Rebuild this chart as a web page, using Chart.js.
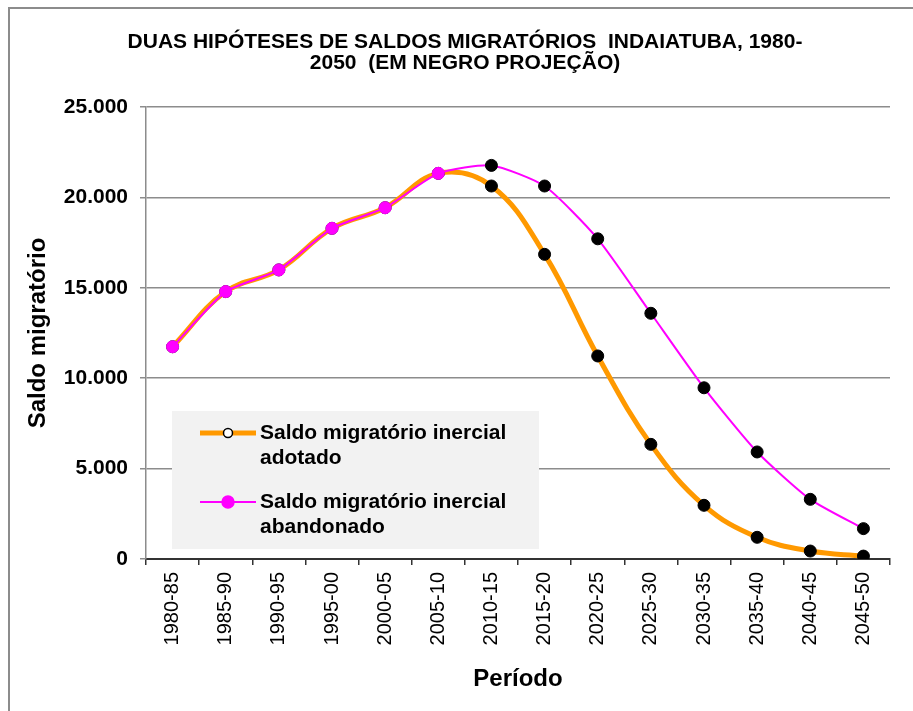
<!DOCTYPE html>
<html lang="pt-BR">
<head>
<meta charset="utf-8">
<title>Saldos migratórios Indaiatuba</title>
<script src="https://cdn.jsdelivr.net/npm/chart.js@4/dist/chart.umd.min.js"></script>
<style>
  html, body { margin: 0; padding: 0; background: #fff; }
  #chart { display: block; }
</style>
</head>
<body>
<canvas id="chart" width="913" height="711"></canvas>
<script>
// Chart data
const periods = ["1980-85", "1985-90", "1990-95", "1995-00", "2000-05", "2005-10", "2010-15",
  "2015-20", "2020-25", "2025-30", "2030-35", "2035-40", "2040-45", "2045-50"];
const adotado = [11740, 14790, 15990, 18290, 19430, 21330, 20630, 16850, 11230, 6340, 2970, 1200, 440, 160];
const abandonado = [11740, 14790, 15990, 18290, 19430, 21330, 21770, 20630, 17710, 13590, 9470, 5920, 3300, 1680];
const projectionStart = 6; // first projected period (black markers)
const yTicks = [0, 5000, 10000, 15000, 20000, 25000];
const titleLines = ["DUAS HIPÓTESES DE SALDOS MIGRATÓRIOS  INDAIATUBA, 1980-", "2050  (EM NEGRO PROJEÇÃO)"];

const FONT = "'Liberation Sans', Arial, sans-serif";
const ORANGE = "#ff9900";
const MAGENTA = "#ff00ff";

// per-point marker colours: history vs projection
const markerColors = (histColor) => periods.map((p, i) => (i < projectionStart ? histColor : "#000"));

const fmt = (v) => String(v).replace(/\B(?=(\d{3})+(?!\d))/g, ".");

// simple word wrap for legend text
function wrap(ctx, text, maxWidth) {
  const words = text.split(" ");
  const lines = [];
  let line = "";
  words.forEach((w) => {
    const test = line ? line + " " + w : w;
    if (ctx.measureText(test).width > maxWidth && line) {
      lines.push(line);
      line = w;
    } else {
      line = test;
    }
  });
  lines.push(line);
  return lines;
}

// frame + title drawn on the canvas
const framePlugin = {
  id: "frame",
  beforeDraw(chart) {
    const ctx = chart.ctx;
    ctx.save();
    ctx.fillStyle = "#fff";
    ctx.fillRect(0, 0, chart.width, chart.height);
    ctx.strokeStyle = "#8c8c8c";
    ctx.lineWidth = 2;
    ctx.beginPath();
    ctx.moveTo(9, chart.height + 5);
    ctx.lineTo(9, 8);
    ctx.lineTo(chart.width + 5, 8);
    ctx.stroke();
    ctx.restore();
  },
  afterDraw(chart) {
    const ctx = chart.ctx;
    ctx.save();
    ctx.font = "bold 21px " + FONT;
    ctx.fillStyle = "#000";
    ctx.textAlign = "center";
    ctx.textBaseline = "middle";
    titleLines.forEach((t, i) => ctx.fillText(t, 465, 42 + i * 21.5));
    ctx.restore();
  },
};

// legend box inside the plot area
const boxLegend = {
  id: "boxLegend",
  beforeDatasetsDraw(chart) {
    const ctx = chart.ctx;
    const area = chart.chartArea;
    const x = area.left + 26;
    const y = area.top + 304;
    ctx.save();
    ctx.fillStyle = "#f2f2f2";
    ctx.fillRect(x, y, 367, 138);
    ctx.font = "bold 21px " + FONT;
    ctx.textBaseline = "middle";
    chart.data.datasets.forEach((ds, i) => {
      const cy = y + 22 + i * 69;
      // line sample
      ctx.strokeStyle = ds.borderColor;
      ctx.lineWidth = ds.borderWidth;
      ctx.beginPath();
      ctx.moveTo(x + 28, cy);
      ctx.lineTo(x + 84, cy);
      ctx.stroke();
      // marker sample (first point style)
      ctx.beginPath();
      ctx.arc(x + 56, cy, ds.legendRadius, 0, Math.PI * 2);
      ctx.fillStyle = ds.pointBackgroundColor[0];
      ctx.fill();
      ctx.lineWidth = 1.5;
      ctx.strokeStyle = ds.pointBorderColor[0];
      ctx.stroke();
      // wrapped text
      ctx.fillStyle = "#000";
      wrap(ctx, ds.label, 265).forEach((line, j) => ctx.fillText(line, x + 88, cy + j * 25.5));
    });
    ctx.restore();
  },
};

new Chart(document.getElementById("chart"), {
  type: "line",
  data: {
    labels: periods,
    datasets: [
      {
        label: "Saldo migratório inercial adotado",
        data: adotado,
        borderColor: ORANGE,
        borderWidth: 5,
        tension: 0.4,
        pointRadius: 6,
        pointBorderWidth: 1,
        pointBackgroundColor: periods.map((p, i) => (i < projectionStart ? "#fff" : "#000")),
        pointBorderColor: periods.map(() => "#000"),
        legendRadius: 4.5,
        order: 2,
      },
      {
        label: "Saldo migratório inercial abandonado",
        data: abandonado,
        borderColor: MAGENTA,
        borderWidth: 2,
        tension: 0.2,
        pointRadius: 6,
        pointBorderWidth: 1,
        pointBackgroundColor: markerColors(MAGENTA),
        pointBorderColor: markerColors(MAGENTA),
        legendRadius: 6,
        order: 1,
      },
    ],
  },
  options: {
    responsive: false,
    animation: false,
    layout: { padding: { top: 107, left: 18, right: 23, bottom: 0 } },
    plugins: {
      legend: { display: false },
      title: { display: false },
      tooltip: { enabled: false },
    },
    scales: {
      x: {
        offset: true,
        grid: {
          offset: true,
          drawOnChartArea: false,
          drawTicks: true,
          tickLength: 6,
          color: "#333",
          lineWidth: 1.5,
        },
        border: { color: "#333", width: 2 },
        ticks: {
          autoSkip: false,
          minRotation: 90,
          maxRotation: 90,
          padding: 7,
          color: "#000",
          font: { family: FONT, size: 20 },
        },
        title: {
          display: true,
          text: "Período",
          color: "#000",
          font: { family: FONT, size: 24, weight: "bold" },
          padding: { top: 0, bottom: 17 },
        },
        afterFit: (scale) => { scale.height = 152; },
      },
      y: {
        min: 0,
        max: 25000,
        afterBuildTicks: (scale) => { scale.ticks = yTicks.map((v) => ({ value: v })); },
        grid: {
          color: "#8c8c8c",
          lineWidth: 1.5,
          drawTicks: true,
          tickLength: 6,
        },
        border: { color: "#8c8c8c", width: 1.5 },
        ticks: {
          padding: 12,
          color: "#000",
          font: { family: FONT, size: 21, weight: "bold" },
          callback: (v) => fmt(v),
        },
        title: {
          display: true,
          text: "Saldo migratório",
          color: "#000",
          font: { family: FONT, size: 24, weight: "bold" },
          padding: { top: 6, bottom: 0 },
        },
        afterFit: (scale) => { scale.width = 128; },
      },
    },
  },
  plugins: [framePlugin, boxLegend],
});
</script>
</body>
</html>
